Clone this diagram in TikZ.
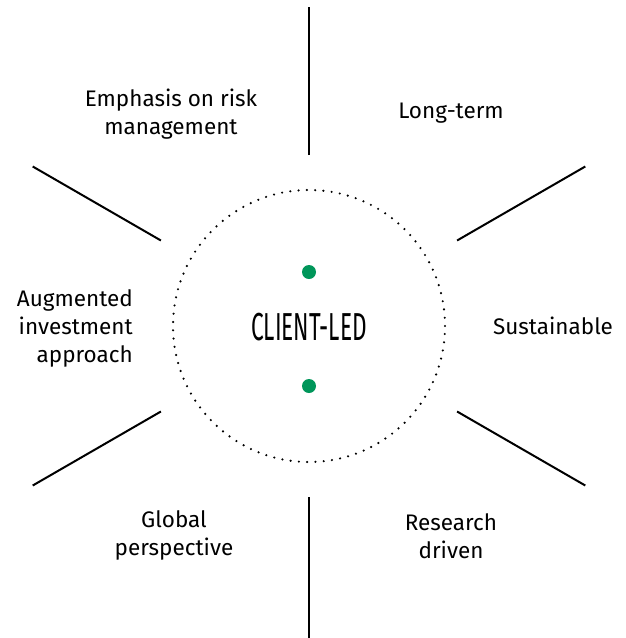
\documentclass[tikz,border=0pt]{standalone}
\usepackage{fontspec}
\setmainfont{Fira Sans}
\newfontfamily\condfont[FakeStretch=0.58]{Fira Sans}
\usetikzlibrary{positioning}
\definecolor{dotgreen}{RGB}{0,150,90}

\begin{document}
\begin{tikzpicture}[
  x = 1pt, y = -1pt,
  every node/.style = {font=\fontsize{22.5}{28}\selectfont, inner sep=0pt},
  hub/.style = {circle, draw=black, minimum size=272pt,
    line width=2.4pt, line cap=round, dash pattern=on 0pt off 8.3pt},
  spoke/.style = {draw=black, line width=2pt},
  marker/.style = {circle, fill=dotgreen, minimum size=14pt},
  lbl/.style = {align=center}
]
\useasboundingbox (0,0) rectangle (625,638);

\node[hub]   (ring)  at (309,326) {};
\node        (title) at (309,327) {\condfont\fontsize{39}{42}\selectfont CLIENT-LED};
\node[marker] (dottop) at (309,272) {};
\node[marker] (dotbot) at (309,386) {};

% spokes
\foreach \a in {30,90,...,330}
  \draw[spoke] (ring.center) ++(\a:171) -- ++(\a:148);

\node[lbl]              (risk)   at (171,114) {Emphasis on risk\\management};
\node[lbl]              (term)   at (451,113) {Long-term};
\node[align=right, anchor=east] (augm) at (133,328) {Augmented\\investment\\approach};
\node[lbl]              (sust)   at (553,326) {Sustainable};
\node[lbl]              (glob)   at (174,535) {Global\\perspective};
\node[lbl]              (resd)   at (451,536) {Research\\driven};
\end{tikzpicture}
\end{document}
